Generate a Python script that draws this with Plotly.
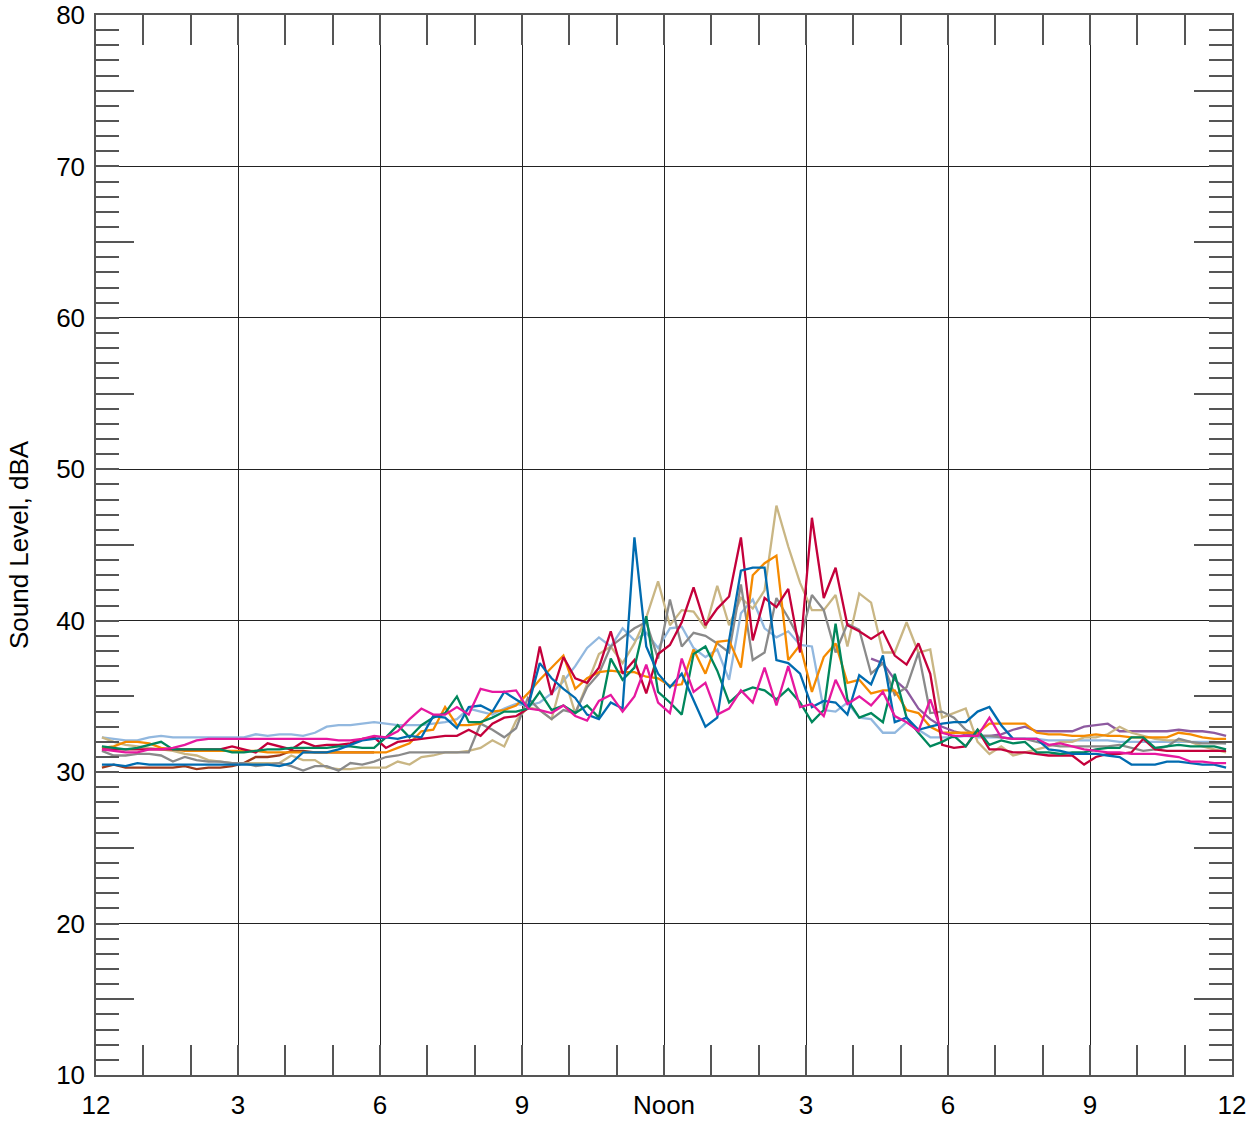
import plotly.graph_objects as go

# time of each reading, hours after midnight (15-minute bins, plotted at bin centres)
hours = [0.125 + 0.25 * k for k in range(96)]

tick_hours = [0, 3, 6, 9, 12, 15, 18, 21, 24]
tick_labels = ["12", "3", "6", "9", "Noon", "3", "6", "9", "12"]
y_major = [10, 20, 30, 40, 50, 60, 70, 80]
y_half = [15, 25, 35, 45, 55, 65, 75]

brown = [30.3, 30.5, 30.3, 30.3, 30.3, 30.3, 30.3, 30.4,
         30.2, 30.3, 30.3, 30.4, 30.6, 31.0, 31.0, 31.1,
         31.4, 31.4, 31.3, 31.3, 31.3, 31.3, 31.3, 31.3] + [None] * 72

purple = [None] * 65 + [37.5, 37.2, 36.1, 35.4, 34.2, 33.5, 33.0,
          32.7, 32.5, 32.4, 32.4, 32.5, 32.8, 33.0, 32.7,
          32.7, 32.7, 32.7, 33.0, 33.1, 33.2, 32.7, 32.7,
          32.7, 32.7, 32.7, 32.8, 32.7, 32.7, 32.6, 32.4]

light_blue = [32.3, 32.2, 32.1, 32.1, 32.3, 32.4, 32.3, 32.3,
              32.3, 32.3, 32.3, 32.3, 32.3, 32.5, 32.4, 32.5,
              32.5, 32.4, 32.6, 33.0, 33.1, 33.1, 33.2, 33.3,
              33.2, 33.1, 33.1, 33.1, 33.2, 33.3, 33.5, 34.2,
              34.0, 33.8, 34.2, 34.5, 34.4, 34.6, 35.2, 36.0,
              37.0, 38.2, 38.9, 38.3, 39.5, 38.7, 39.2, 38.2,
              39.5, 39.6, 38.2, 37.6, 38.1, 36.1, 40.5, 41.4,
              39.5, 38.9, 39.3, 38.4, 38.3, 34.1, 34.0, 34.6,
              33.6, 33.5, 32.6, 32.6, 33.3, 32.8, 32.3, 32.3,
              32.3, 32.4, 32.3, 32.3, 32.3, 32.2, 32.2, 32.2,
              32.1, 32.1, 32.1, 32.1, 32.1, 32.1, 32.0, 32.0,
              32.0, 32.0, 32.0, 32.0, 32.0, 32.0, 32.0, 31.9]

tan = [32.3, 32.0, 31.8, 31.7, 31.6, 31.5, 31.4, 31.2,
       31.1, 30.8, 30.7, 30.6, 30.6, 30.6, 30.6, 30.6,
       31.1, 30.8, 30.8, 30.3, 30.2, 30.2, 30.3, 30.3,
       30.3, 30.7, 30.5, 31.0, 31.1, 31.3, 31.3, 31.4,
       31.6, 32.1, 31.7, 33.4, 34.3, 34.1, 33.5, 36.4,
       33.9, 35.8, 37.8, 38.3, 37.2, 38.5, 40.2, 42.6,
       39.7, 40.7, 40.6, 39.5, 42.3, 39.7, 41.5, 40.8,
       42.0, 47.6, 44.9, 42.5, 40.7, 40.7, 41.7, 38.3,
       41.8, 41.2, 37.9, 37.9, 39.9, 37.9, 38.1, 33.6,
       33.9, 34.2, 32.0, 31.2, 31.7, 31.1, 31.3, 31.5,
       31.7, 32.0, 32.0, 32.3, 32.3, 32.5, 33.0, 32.6,
       32.4, 32.2, 32.1, 32.1, 32.0, 31.7, 31.5, 31.3]

gray = [31.4, 31.1, 31.1, 31.2, 31.2, 31.1, 30.7, 31.0,
        30.8, 30.7, 30.7, 30.6, 30.6, 30.4, 30.5, 30.6,
        30.4, 30.1, 30.4, 30.4, 30.1, 30.6, 30.5, 30.7,
        31.0, 31.1, 31.3, 31.3, 31.3, 31.3, 31.3, 31.3,
        33.2, 32.8, 32.3, 32.9, 34.9, 34.1, 33.5, 34.1,
        33.9, 35.6, 36.5, 38.3, 38.9, 39.5, 39.9, 37.5,
        41.4, 38.3, 39.2, 39.0, 38.5, 37.9, 42.4, 37.4,
        37.9, 41.5, 40.2, 38.7, 41.7, 40.7, 37.9, 39.8,
        39.4, 36.5, 37.2, 35.1, 35.6, 37.9, 33.9, 34.0,
        33.6, 32.8, 32.4, 32.4, 32.3, 32.2, 32.2, 32.0,
        31.8, 31.7, 31.7, 31.7, 31.7, 31.7, 31.8, 31.6,
        31.4, 31.5, 31.7, 32.2, 32.0, 31.9, 31.9, 31.9]

orange = [31.6, 31.7, 32.0, 32.0, 31.9, 31.6, 31.5, 31.4,
          31.4, 31.4, 31.4, 31.4, 31.4, 31.4, 31.3, 31.3,
          31.3, 31.3, 31.3, 31.3, 31.3, 31.3, 31.3, 31.3,
          31.3, 31.6, 31.9, 32.7, 32.8, 34.3, 33.1, 33.1,
          33.2, 34.0, 34.1, 34.4, 35.2, 36.1, 36.9, 37.7,
          35.5, 36.2, 36.6, 36.7, 36.6, 36.6, 36.3, 36.2,
          35.7, 35.8, 38.1, 36.5, 38.6, 38.7, 36.9, 43.0,
          43.8, 44.3, 37.4, 38.4, 35.3, 37.6, 38.5, 35.9,
          36.1, 35.2, 35.4, 35.4, 34.1, 33.9, 33.0, 32.6,
          32.6, 32.6, 32.6, 33.2, 33.2, 33.2, 33.2, 32.6,
          32.5, 32.5, 32.4, 32.4, 32.5, 32.4, 32.4, 32.3,
          32.3, 32.3, 32.3, 32.6, 32.5, 32.3, 32.2, 32.2]

crimson = [31.5, 31.5, 31.5, 31.5, 31.5, 31.5, 31.5, 31.5,
           31.5, 31.5, 31.5, 31.7, 31.5, 31.3, 31.9, 31.7,
           31.5, 32.0, 31.7, 31.8, 31.8, 31.9, 32.2, 32.3,
           31.6, 32.0, 32.1, 32.2, 32.3, 32.4, 32.4, 32.8,
           32.4, 33.2, 33.6, 33.7, 34.2, 38.3, 35.1, 37.6,
           36.2, 35.9, 36.9, 39.3, 36.5, 37.4, 35.2, 37.8,
           38.4, 39.9, 42.2, 39.7, 40.8, 41.6, 45.5, 38.7,
           41.5, 40.9, 42.1, 37.9, 46.8, 41.5, 43.5, 39.7,
           39.3, 38.8, 39.3, 37.7, 37.1, 38.5, 36.5, 31.8,
           31.6, 31.7, 32.8, 31.5, 31.5, 31.3, 31.3, 31.2,
           31.1, 31.1, 31.1, 30.5, 31.0, 31.2, 31.2, 31.3,
           32.2, 31.5, 31.4, 31.4, 31.4, 31.4, 31.4, 31.4]

green = [31.7, 31.6, 31.5, 31.6, 31.8, 32.0, 31.5, 31.5,
         31.5, 31.5, 31.5, 31.3, 31.3, 31.4, 31.5, 31.5,
         31.6, 31.6, 31.6, 31.6, 31.7, 31.7, 31.6, 31.6,
         32.3, 33.1, 32.3, 33.1, 33.6, 33.9, 35.0, 33.3,
         33.3, 33.6, 34.0, 34.0, 34.2, 35.3, 34.1, 34.4,
         33.9, 34.4, 33.6, 37.5, 36.1, 36.9, 40.3, 35.3,
         34.6, 33.8, 37.8, 38.3, 36.7, 34.6, 35.3, 35.6,
         35.4, 34.8, 35.5, 34.6, 33.3, 34.1, 39.8, 34.8,
         33.6, 33.9, 33.3, 36.5, 33.6, 32.6, 31.7, 32.0,
         32.4, 31.7, 32.8, 31.8, 32.1, 31.9, 32.0, 31.3,
         31.3, 31.2, 31.3, 31.3, 31.5, 31.6, 31.6, 32.3,
         32.3, 31.6, 31.7, 31.8, 31.7, 31.7, 31.7, 31.5]

blue = [30.5, 30.5, 30.4, 30.6, 30.5, 30.5, 30.5, 30.5,
        30.5, 30.5, 30.5, 30.5, 30.5, 30.5, 30.5, 30.4,
        30.6, 31.3, 31.3, 31.3, 31.5, 31.8, 32.1, 32.2,
        32.3, 32.2, 32.4, 32.3, 33.7, 33.6, 32.9, 34.3,
        34.4, 34.0, 35.3, 34.8, 34.3, 37.2, 36.2, 35.5,
        34.9, 33.8, 33.5, 34.6, 34.2, 45.5, 38.3, 36.5,
        35.6, 36.5, 34.8, 33.0, 33.6, 38.7, 43.3, 43.5,
        43.5, 37.4, 37.2, 36.5, 34.3, 34.7, 34.6, 33.8,
        36.4, 35.8, 37.7, 33.3, 33.6, 32.8, 33.0, 33.2,
        33.3, 33.3, 34.0, 34.3, 33.1, 32.2, 32.2, 32.2,
        31.5, 31.4, 31.2, 31.2, 31.2, 31.1, 31.0, 30.5,
        30.5, 30.5, 30.7, 30.7, 30.6, 30.5, 30.5, 30.3]

magenta = [31.5, 31.4, 31.3, 31.3, 31.5, 31.5, 31.6, 31.8,
           32.1, 32.2, 32.2, 32.2, 32.2, 32.2, 32.2, 32.2,
           32.2, 32.2, 32.2, 32.2, 32.1, 32.1, 32.2, 32.4,
           32.3, 32.7, 33.5, 34.2, 33.8, 33.8, 34.3, 33.8,
           35.5, 35.3, 35.3, 35.4, 34.2, 34.1, 33.9, 34.4,
           33.7, 33.4, 34.7, 35.1, 34.0, 35.0, 37.1, 34.6,
           33.9, 37.5, 35.3, 35.9, 33.8, 34.2, 35.4, 34.6,
           36.9, 34.4, 37.0, 34.3, 34.5, 33.7, 36.1, 34.5,
           35.0, 34.4, 35.3, 33.7, 33.3, 32.7, 34.8, 32.6,
           32.4, 32.4, 32.4, 33.6, 32.3, 32.2, 32.2, 32.2,
           31.8, 31.9, 31.7, 31.5, 31.4, 31.3, 31.3, 31.2,
           31.2, 31.2, 31.1, 31.0, 30.7, 30.7, 30.6, 30.6]

series = [
    (brown, "#9c3a1c"),
    (purple, "#8e5aa0"),
    (light_blue, "#92b8df"),
    (tan, "#c9b684"),
    (gray, "#8a8a8a"),
    (orange, "#f58a00"),
    (crimson, "#c4003b"),
    (green, "#00875c"),
    (blue, "#006bb0"),
    (magenta, "#e6189f"),
]

FONT = "Liberation Sans, Arial, sans-serif"
TICKC = "#555555"
GRIDC = "#222222"

fig = go.Figure()
for vals, col in series:
    fig.add_trace(go.Scatter(x=hours, y=vals, mode="lines",
                             line=dict(color=col, width=2.3),
                             showlegend=False, hoverinfo="skip"))

# helper trace so the half-decade tick axis renders
fig.add_trace(go.Scatter(x=[None], y=[None], yaxis="y2", showlegend=False,
                         hoverinfo="skip"))

fig.update_layout(
    width=1248, height=1124,
    margin=dict(l=96, r=16, t=15, b=49),
    paper_bgcolor="white", plot_bgcolor="white",
    font=dict(family=FONT, size=26, color="black"),
    xaxis=dict(
        range=[0, 24], tickmode="array", tickvals=tick_hours, ticktext=tick_labels,
        showgrid=True, gridcolor=GRIDC, gridwidth=1,
        ticks="inside", ticklen=30, tickcolor=TICKC, tickwidth=1.5,
        showline=True, linecolor=TICKC, linewidth=1.5, mirror="ticks",
        minor=dict(dtick=1, tick0=0, ticks="inside", ticklen=30,
                   tickcolor=TICKC, tickwidth=1.5, showgrid=False),
        zeroline=False, ticklabelstandoff=6, automargin=False,
        tickfont=dict(family=FONT, size=26, color="black"),
    ),
    yaxis=dict(
        range=[10, 80], tickmode="array", tickvals=y_major,
        ticktext=[str(v) for v in y_major],
        showgrid=True, gridcolor=GRIDC, gridwidth=1,
        ticks="inside", ticklen=23, tickcolor=TICKC, tickwidth=1.5,
        showline=True, linecolor=TICKC, linewidth=1.5, mirror="ticks",
        minor=dict(dtick=1, tick0=10, ticks="inside", ticklen=23,
                   tickcolor=TICKC, tickwidth=1.5, showgrid=False),
        zeroline=False, ticklabelstandoff=4, automargin=False,
        tickfont=dict(family=FONT, size=26, color="black"),
        title=dict(text="Sound Level, dBA", standoff=20,
                   font=dict(family=FONT, size=26, color="black")),
    ),
    yaxis2=dict(
        range=[10, 80], overlaying="y", side="left",
        tickmode="array", tickvals=y_half, ticks="inside", ticklen=38,
        tickcolor=TICKC, tickwidth=1.5, showticklabels=False,
        showgrid=False, zeroline=False, showline=False, mirror="ticks",
        automargin=False,
    ),
)

fig.write_html("out.html")
